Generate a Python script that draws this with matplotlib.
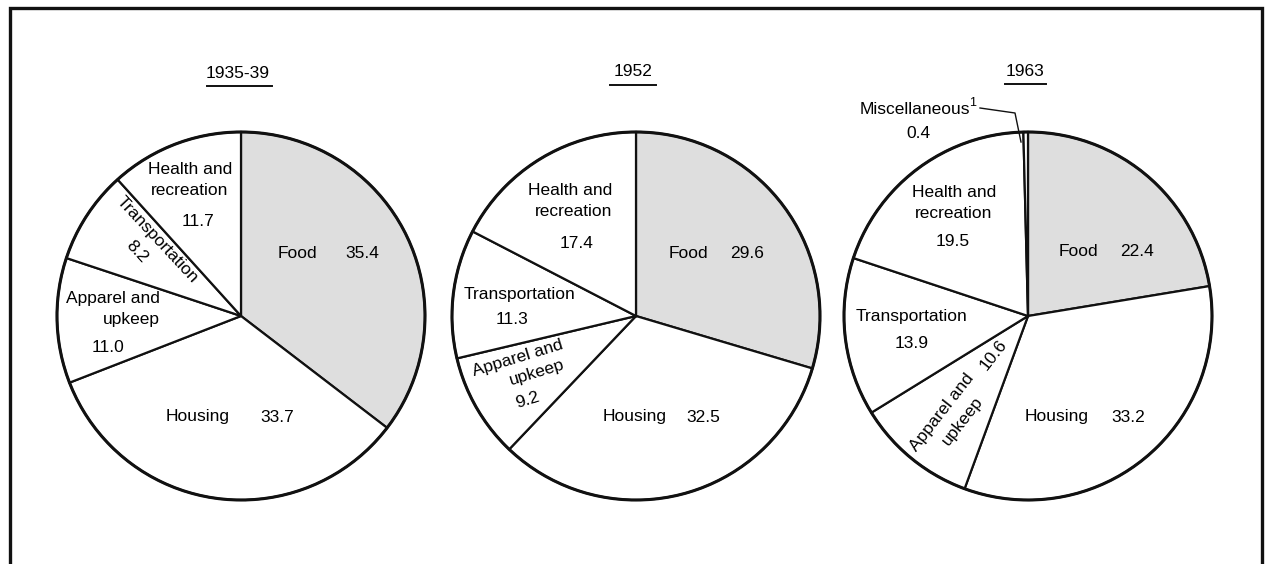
"""
Family spending shares, three pies (1935-39, 1952, 1963).
"""
import matplotlib
matplotlib.use("Agg")
import matplotlib.pyplot as plt
from matplotlib.patches import Circle

plt.rcParams["font.family"] = ["Liberation Sans", "DejaVu Sans"]

W, H = 1265, 564

# data -- clockwise from 12 o'clock
years = ["1935-39", "1952", "1963"]
categories = ["Food", "Housing", "Apparel and upkeep", "Transportation",
              "Health and recreation", "Miscellaneous"]
shares_1935 = [35.4, 33.7, 11.0, 8.2, 11.7]
shares_1952 = [29.6, 32.5, 9.2, 11.3, 17.4]
shares_1963 = [22.4, 33.2, 10.6, 13.9, 19.5, 0.4]
all_shares = [shares_1935, shares_1952, shares_1963]

# layout (pixel coords, y measured from top)
centers = [(241, 316), (636, 316), (1028, 316)]
RADIUS = 184
FS = 12.5

fig = plt.figure(figsize=(W / 100, H / 100), dpi=100)
ax = fig.add_axes([0, 0, 1, 1])


def Y(y):
    return H - y


def label(x, y, s, rot=0, ha="center", **kw):
    ax.text(x, Y(y), s, fontsize=FS, ha=ha, va="center", rotation=rot,
            rotation_mode="anchor", linespacing=1.5, zorder=5, **kw)


for (cx, cy), shares, year in zip(centers, all_shares, years):
    colors = ["#dedede"] + ["white"] * (len(shares) - 1)
    ax.pie(shares, colors=colors, startangle=90, counterclock=False,
           center=(cx, Y(cy)), radius=RADIUS, frame=True,
           wedgeprops=dict(edgecolor="#111111", linewidth=1.6))
    ax.add_patch(Circle((cx, Y(cy)), RADIUS, fill=False,
                        edgecolor="#111111", linewidth=2.2, zorder=4))

# year titles, underlined
titles = [(238, 73, 207, 272), (633, 72, 610, 656), (1025, 71, 1005, 1046)]
for year, (tx, ty, u0, u1) in zip(years, titles):
    label(tx, ty, year)
    ax.plot([u0, u1], [Y(ty + 13), Y(ty + 13)], color="#111111", lw=1.4)

# 1935-39 labels
label(190, 180, "Health and\nrecreation")
label(198, 221, "11.7")
label(297, 253, "Food")
label(362, 253, "35.4")
label(157, 240, "Transportation", rot=-47)
label(137, 252, "8.2", rot=-47)
label(160, 309, "Apparel and\nupkeep", ha="right")
label(108, 348, "11.0")
label(198, 417, "Housing")
label(277, 417, "33.7")

# 1952 labels
label(612, 201, "Health and\nrecreation", ha="right")
label(577, 243, "17.4")
label(688, 253, "Food")
label(747, 253, "29.6")
label(520, 295, "Transportation")
label(512, 320, "11.3")
label(518, 358, "Apparel and", rot=17)
label(537, 372, "upkeep", rot=17)
label(527, 400, "9.2", rot=17)
label(635, 417, "Housing")
label(703, 417, "32.5")

# 1963 labels
label(915, 110, "Miscellaneous")
ax.text(973, Y(103), "1", fontsize=9, ha="center", va="center")
label(918, 133, "0.4")
ax.plot([980, 1015, 1021], [Y(108), Y(113), Y(142)], color="#111111", lw=1.0)
label(954, 203, "Health and\nrecreation")
label(953, 242, "19.5")
label(1078, 252, "Food")
label(1137, 252, "22.4")
label(912, 317, "Transportation")
label(912, 344, "13.9")
label(942, 412, "Apparel and", rot=52)
label(963, 421, "upkeep", rot=52)
label(994, 355, "10.6", rot=52)
label(1057, 417, "Housing")
label(1128, 417, "33.2")

# open frame (bottom edge is cut off in the source)
ax.plot([10, 10, 1262, 1262], [0, Y(8), Y(8), 0], color="#111111", lw=2.4,
        solid_joinstyle="miter")

ax.set_xlim(0, W)
ax.set_ylim(0, H)
ax.set_aspect("equal")
ax.axis("off")

fig.savefig("out.png", dpi=100)
